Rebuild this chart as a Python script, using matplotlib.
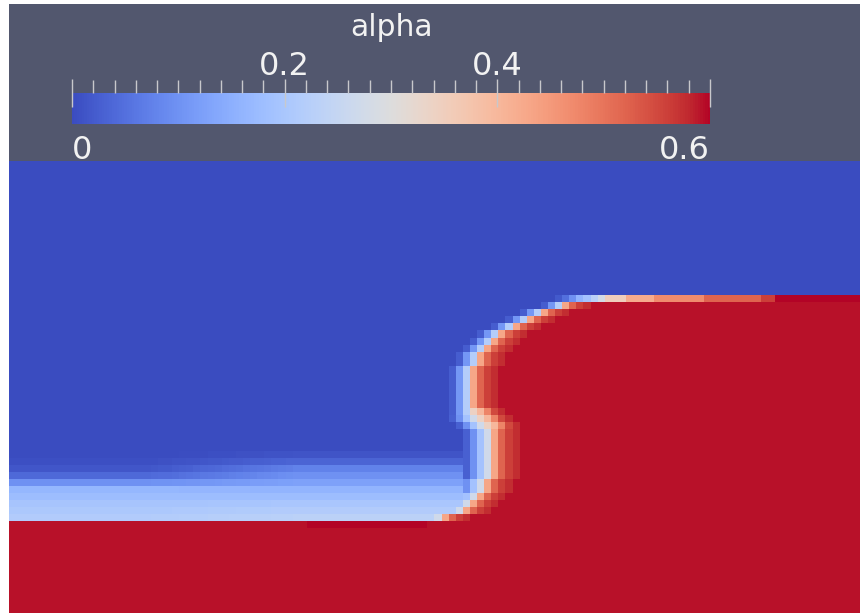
import numpy as np
import matplotlib
matplotlib.use("Agg")
import matplotlib.pyplot as plt
from matplotlib.patches import Rectangle
from matplotlib.ticker import MultipleLocator
from matplotlib.cm import ScalarMappable
from matplotlib.colors import Normalize

W, H, DPI = 860, 613, 100

# ---- field description (cell grid, row 0 at the top) ----
n_rows, n_cols = 64, 120
alpha_min, alpha_max = 0.0, 0.6
bulk = 0.591

# liquid slab along the bottom
slab_top = 51
slab_deep_row = 51
slab_deep_cols = (42, 59)

# top row of the liquid plateau: (first column, value) segments
top_row = 19
top_row_segments = [(77, 0.02), (78, 0.05), (79, 0.10), (80, 0.16), (81, 0.19),
                     (82, 0.23), (83, 0.28), (84, 0.35), (87, 0.42), (91, 0.47),
                     (98, 0.52), (106, 0.56), (108, 0.60)]

# rows 20..50: first liquid column of the interface rim
rim_first_row = 20
rim_col = [78, 75, 73, 71, 69, 68, 67, 66, 66, 65, 65, 65, 65, 65, 65, 65,
           66, 67, 68, 68, 68, 68, 68, 68, 68, 67, 67, 66, 65, 64, 61]
blue_width = [2, 2, 2, 2, 2, 2, 2, 2, 2, 2, 2, 2, 2, 2, 2, 2,
              3, 3, 3, 3, 3, 3, 3, 3, 3, 3, 3, 3, 3, 3, 3]
red_width = [1, 1, 1, 1, 1, 1, 1, 1, 1, 1, 1, 1, 1, 1, 1, 2,
             2, 2, 1, 1, 1, 1, 1, 1, 1, 1, 1, 1, 1, 1, 1]

blue_profiles = {2: [0.22, 0.11, 0.025], 3: [0.27, 0.19, 0.10, 0.03]}
red_profiles = {1: [0.43, 0.52, 0.56, 0.575], 2: [0.34, 0.40, 0.48, 0.55, 0.575]}

# thin film above the slab, listed from row 50 upward
film_left = [0.215, 0.205, 0.195, 0.18, 0.165, 0.10, 0.04, 0.015, 0.005, 0.0]
film_right = [0.23, 0.215, 0.20, 0.18, 0.16, 0.125, 0.10, 0.075, 0.035, 0.012]
film_weight = [0, 0, 0, 0, 0, 0, 0, 0, 0, 0,
               0, 0, 0, 0, 0, 0, 0, 0, 0, 0,
               0.05, 0.08, 0.1, 0.15, 0.2, 0.25, 0.3, 0.35, 0.4, 0.45,
               0.5, 0.55, 0.6, 0.65, 0.7, 0.75, 0.8, 0.85, 0.9, 0.95,
               1, 1, 1, 1, 1, 1, 1, 1, 1, 1,
               1, 1, 1, 1, 1, 1, 1, 1, 1, 1,
               1, 1, 1, 1]

# ---- assemble the field ----
alpha = np.zeros((n_rows, n_cols))
alpha[slab_top:, :] = bulk
alpha[slab_deep_row, slab_deep_cols[0]:slab_deep_cols[1]] = alpha_max

for c, w in enumerate(film_weight):
    for k, (vl, vr) in enumerate(zip(film_left, film_right)):
        alpha[slab_top - 1 - k, c] = (1 - w) * vl + w * vr

for i, (start, val) in enumerate(top_row_segments):
    stop = top_row_segments[i + 1][0] if i + 1 < len(top_row_segments) else n_cols
    alpha[top_row, start:stop] = val

for i, c in enumerate(rim_col):
    r = rim_first_row + i
    alpha[r, c:] = bulk
    for k, v in enumerate(red_profiles[red_width[i]]):
        alpha[r, c + k] = v
    for k, v in enumerate(blue_profiles[blue_width[i]]):
        alpha[r, c - 1 - k] = max(alpha[r, c - 1 - k], v)

# ---- figure ----
fig = plt.figure(figsize=(W / DPI, H / DPI), dpi=DPI, facecolor="white")
bg = "#52576e"
fig.patches.append(Rectangle((9 / W, 1 - 161 / H), 851 / W, 157 / H,
                             transform=fig.transFigure, facecolor=bg,
                             edgecolor="none", zorder=-5))

ax = fig.add_axes([9 / W, 0, 851 / W, 452 / H])
ax.imshow(alpha, cmap="coolwarm", vmin=alpha_min, vmax=alpha_max,
          interpolation="nearest", aspect="auto",
          extent=[0, n_cols, n_rows, 0])
ax.set_axis_off()

cax = fig.add_axes([72 / W, 1 - 124 / H, 638 / W, 31 / H])
cax.set_zorder(2)
sm = ScalarMappable(norm=Normalize(alpha_min, alpha_max), cmap="coolwarm")
cb = fig.colorbar(sm, cax=cax, orientation="horizontal")
cb.outline.set_visible(False)
cax.xaxis.set_ticks_position("top")
cax.set_xticks([0.0, 0.2, 0.4, 0.6])
cax.set_xticklabels(["", "0.2", "0.4", ""])
cax.xaxis.set_minor_locator(MultipleLocator(0.02))
tick_col = "#c8c8cc"
txt_col = "#f2f2f2"
cax.tick_params(which="major", direction="inout", length=19.5, width=1.0,
                color=tick_col, labelsize=23, labelcolor=txt_col, pad=-1.5)
cax.tick_params(which="minor", direction="out", length=9.5, width=1.0,
                color=tick_col)
for v, lab, ha in [(alpha_min, "0", "left"), (alpha_max, "0.6", "right")]:
    cax.text(v, -0.36, lab, transform=cax.get_xaxis_transform(),
             ha=ha, va="top", fontsize=23, color=txt_col)

fig.text(392 / W, 1 - 36 / H, "alpha", ha="center", va="baseline",
         fontsize=21.5, color=txt_col)

fig.savefig("out.png", dpi=DPI, facecolor="white")
